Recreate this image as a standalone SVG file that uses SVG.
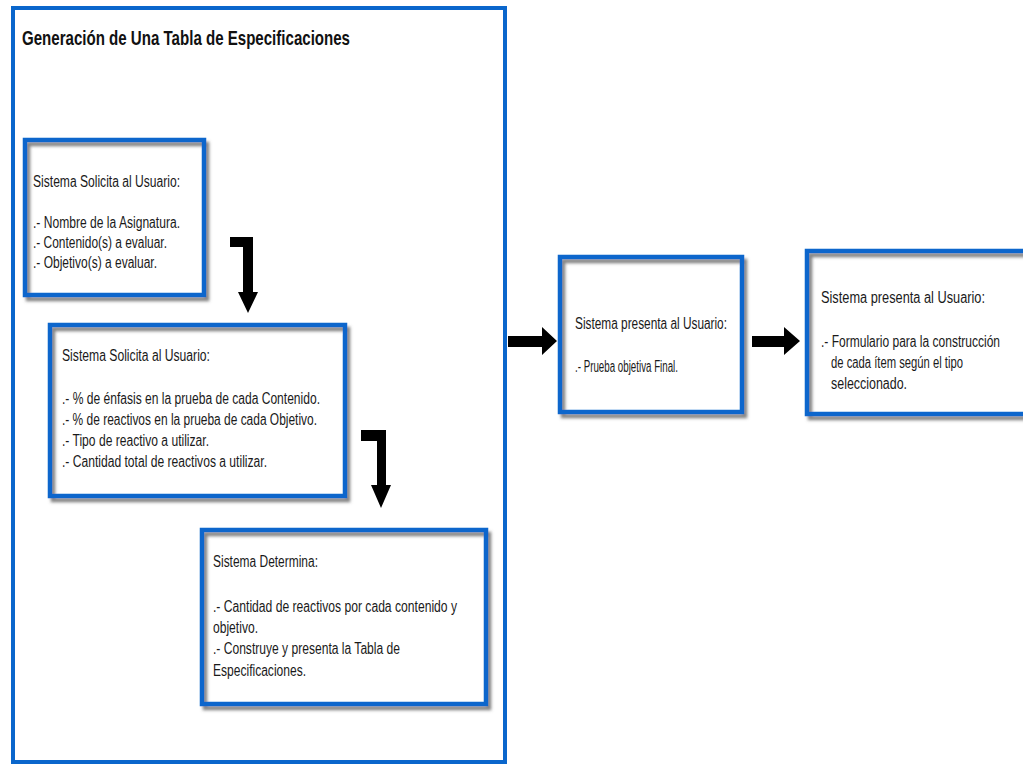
<svg xmlns="http://www.w3.org/2000/svg" width="1023" height="767" viewBox="0 0 1023 767">
<defs>
<filter id="sh" x="-10%" y="-10%" width="125%" height="125%">
<feDropShadow dx="3" dy="4" stdDeviation="1.6" flood-color="#6e6e6e" flood-opacity="0.85"/>
</filter>
</defs>
<style>
text{font-family:"Liberation Sans",Arial,sans-serif;font-size:16px;fill:#1a1a1a;}
.title{font-size:21px;font-weight:bold;fill:#111;}
.bg{fill:#fff;}
.bd{fill:none;stroke:#0a66cc;stroke-width:4.5;filter:url(#sh);}
.frame{fill:#fff;stroke:#0a66cc;stroke-width:4;}
.arr{fill:#000;}
</style>
<rect width="1023" height="767" fill="#fff"/>
<g id="frame">
<rect class="frame" x="13" y="8" width="492" height="754"/>
<text class="title" x="22" y="45" textLength="328" lengthAdjust="spacingAndGlyphs">Generación de Una Tabla de Especificaciones</text>
</g>
<g id="box1">
<rect class="bg" x="25" y="140" width="179" height="155"/>
<rect class="bd" x="25" y="140" width="179" height="155"/>
<text x="33" y="187" textLength="147" lengthAdjust="spacingAndGlyphs">Sistema Solicita al Usuario:</text>
<text x="33" y="228" textLength="147" lengthAdjust="spacingAndGlyphs">.- Nombre de la Asignatura.</text>
<text x="33" y="248" textLength="134" lengthAdjust="spacingAndGlyphs">.- Contenido(s) a evaluar.</text>
<text x="33" y="268" textLength="124" lengthAdjust="spacingAndGlyphs">.- Objetivo(s) a evaluar.</text>
</g>
<g id="box2">
<rect class="bg" x="50" y="325" width="295" height="171"/>
<rect class="bd" x="50" y="325" width="295" height="171"/>
<text x="62" y="361" textLength="148" lengthAdjust="spacingAndGlyphs">Sistema Solicita al Usuario:</text>
<text x="62" y="404" textLength="258" lengthAdjust="spacingAndGlyphs">.- % de énfasis en la prueba de cada Contenido.</text>
<text x="62" y="425" textLength="255" lengthAdjust="spacingAndGlyphs">.- % de reactivos en la prueba de cada Objetivo.</text>
<text x="62" y="446" textLength="147" lengthAdjust="spacingAndGlyphs">.- Tipo de reactivo a utilizar.</text>
<text x="62" y="467" textLength="205" lengthAdjust="spacingAndGlyphs">.- Cantidad total de reactivos a utilizar.</text>
</g>
<g id="box3">
<rect class="bg" x="202" y="530" width="284" height="174"/>
<rect class="bd" x="202" y="530" width="284" height="174"/>
<text x="213" y="567" textLength="105" lengthAdjust="spacingAndGlyphs">Sistema Determina:</text>
<text x="213" y="612" textLength="244" lengthAdjust="spacingAndGlyphs">.- Cantidad de reactivos por cada contenido y</text>
<text x="213" y="633" textLength="45" lengthAdjust="spacingAndGlyphs">objetivo.</text>
<text x="213" y="654" textLength="187" lengthAdjust="spacingAndGlyphs">.- Construye y presenta la Tabla de</text>
<text x="213" y="676" textLength="93" lengthAdjust="spacingAndGlyphs">Especificaciones.</text>
</g>
<g id="box4">
<rect class="bg" x="560" y="257" width="182" height="155"/>
<rect class="bd" x="560" y="257" width="182" height="155"/>
<text x="575" y="329" textLength="152" lengthAdjust="spacingAndGlyphs">Sistema presenta al Usuario:</text>
<text x="575" y="372" textLength="103" lengthAdjust="spacingAndGlyphs">.- Prueba objetiva Final.</text>
</g>
<g id="box5">
<rect class="bg" x="807" y="251" width="222" height="163"/>
<rect class="bd" x="807" y="251" width="222" height="163"/>
<text x="821" y="303" textLength="164" lengthAdjust="spacingAndGlyphs">Sistema presenta al Usuario:</text>
<text x="821" y="347" textLength="179" lengthAdjust="spacingAndGlyphs">.- Formulario para la construcción</text>
<text x="831" y="368" textLength="132" lengthAdjust="spacingAndGlyphs">de cada ítem según el tipo</text>
<text x="831" y="389" textLength="76" lengthAdjust="spacingAndGlyphs">seleccionado.</text>
</g>
<g id="connectors">
<polygon class="arr" points="230,237 253,237 253,292 258,292 248,313 238,292 243,292 243,247 230,247"/>
<polygon class="arr" points="361,430 386,430 386,485 391,485 381,508 371,485 377,485 377,441 361,441"/>
<polygon class="arr" points="508,336 542,336 542,327 557,341 542,355 542,347 508,347"/>
<polygon class="arr" points="752,336 784,336 784,327 800,341 784,355 784,347 752,347"/>
</g>
</svg>
